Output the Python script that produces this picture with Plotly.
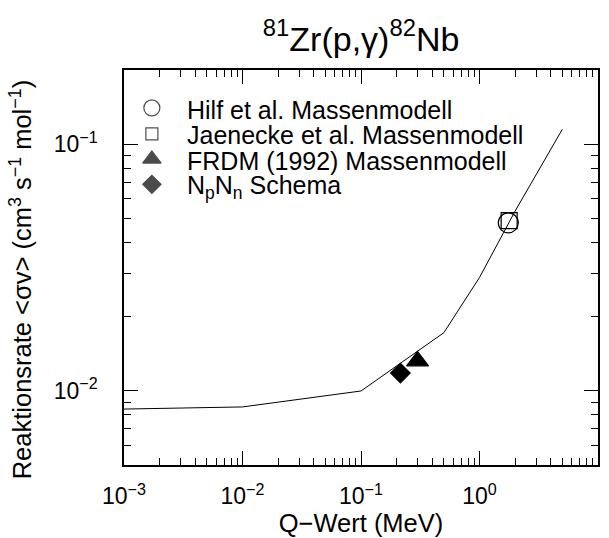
import plotly.graph_objects as go

# Data
q_line = [0.001, 0.01, 0.1, 0.5, 1.0, 2.0, 5.0]
rate_line = [0.00843, 0.0086, 0.00998, 0.0172, 0.0288, 0.0536, 0.115]

models = ["Hilf et al. Massenmodell", "Jaenecke et al. Massenmodell",
          "FRDM (1992) Massenmodell", "N<sub>p</sub>N<sub>n</sub> Schema"]
model_q = [1.75, 1.78, 0.30, 0.215]
model_rate = [0.048, 0.049, 0.0132, 0.0118]
symbols = ["circle-open", "square-open", "triangle-up", "diamond"]
sizes = [20, 16, 19, 15]
legend_sizes = [16, 12, 16, 14]

x_major = [1e-3, 1e-2, 1e-1, 1e0, 1e1]
x_major_text = ["10<sup>−3</sup>", "10<sup>−2</sup>", "10<sup>−1</sup>", "10<sup>0</sup>", "10<sup>1</sup>"]
y_major = [1e-2, 1e-1]
y_major_text = ["10<sup>−2</sup>", "10<sup>−1</sup>"]

x_minor = [m * 10.0 ** e for e in range(-3, 1) for m in range(2, 10)]
y_minor = [m * 10.0 ** e for e in range(-3, 0) for m in range(2, 10)]

FONT = "Liberation Sans, Arial, Helvetica, sans-serif"

# plot area in pixels (for the hand-made legend)
W, H = 609, 538
L, R, T, B = 124, 9, 70, 69
pw, ph = W - L - R, H - T - B

leg_marker_px = 152.0
leg_text_px = 186.7
leg_rows_px = [108.3, 134.5, 160.0, 185.5]
leg_text_rows_px = [110.0, 136.0, 161.5, 188.0]

fig = go.Figure()
fig.add_trace(go.Scatter(x=q_line, y=rate_line, mode="lines",
                         line=dict(color="black", width=1), showlegend=False))
for name, q, r, s, sz in zip(models, model_q, model_rate, symbols, sizes):
    fig.add_trace(go.Scatter(
        x=[q], y=[r], mode="markers", name=name, showlegend=False,
        marker=dict(symbol=s, size=sz, color="black",
                    line=dict(color="black", width=1.2))))

# legend symbols on an overlay axis spanning [0,1]
leg_x = [(leg_marker_px - L) / pw] * len(models)
leg_y = [(H - B - yy) / ph for yy in leg_rows_px]
fig.add_trace(go.Scatter(
    x=leg_x, y=leg_y, xaxis="x2", yaxis="y2", mode="markers", showlegend=False,
    marker=dict(symbol=symbols, size=legend_sizes, color="black",
                line=dict(color="black", width=1.2)), hoverinfo="skip"))

for name, yy in zip(models, leg_text_rows_px):
    fig.add_annotation(text=name, xref="paper", yref="paper",
                       x=(leg_text_px - L) / pw, y=(H - B - yy) / ph,
                       xanchor="left", yanchor="middle",
                       showarrow=False, font=dict(size=25), borderpad=0)

fig.add_annotation(
    text="Reaktionsrate &lt;σv&gt; (cm<sup>3</sup> s<sup>−1</sup> mol<sup>−1</sup>)",
    xref="paper", yref="paper", x=(20 - L) / pw, y=(H - B - 282) / ph,
    xanchor="center", yanchor="middle", textangle=-90, showarrow=False,
    font=dict(size=25.5))

fig.update_layout(
    width=W, height=H,
    margin=dict(l=L, r=R, t=T, b=B),
    paper_bgcolor="white", plot_bgcolor="white",
    font=dict(family=FONT, size=21, color="black"),
    title=dict(text="<sup>81</sup>Zr(p,γ)<sup>82</sup>Nb", x=0.593, xanchor="center",
               y=0.928, yanchor="middle", font=dict(size=34)),
    showlegend=False,
    xaxis2=dict(overlaying="x", range=[0, 1], visible=False, fixedrange=True),
    yaxis2=dict(overlaying="y", range=[0, 1], visible=False, fixedrange=True),
)
axis_common = dict(type="log", showline=True, linecolor="black", linewidth=1.5,
                   mirror="ticks", ticks="inside", ticklen=14, tickwidth=1,
                   tickcolor="black", showgrid=False, zeroline=False,
                   tickfont=dict(size=23))
fig.update_layout(xaxis=dict(**axis_common, range=[-3, 1], tickmode="array",
                 tickvals=x_major, ticktext=x_major_text, ticklabelstandoff=10,
                 minor=dict(tickmode="array", tickvals=x_minor, ticks="inside",
                            ticklen=7, tickcolor="black", tickwidth=1),
                 title=dict(text="Q−Wert (MeV)", font=dict(size=25.5), standoff=2)))
fig.update_layout(yaxis=dict(**axis_common, range=[-2.30103, -0.69897], tickmode="array",
                 tickvals=y_major, ticktext=y_major_text, ticklabelstandoff=20,
                 minor=dict(tickmode="array", tickvals=y_minor, ticks="inside",
                            ticklen=7, tickcolor="black", tickwidth=1)))

fig.write_html("out.html")
